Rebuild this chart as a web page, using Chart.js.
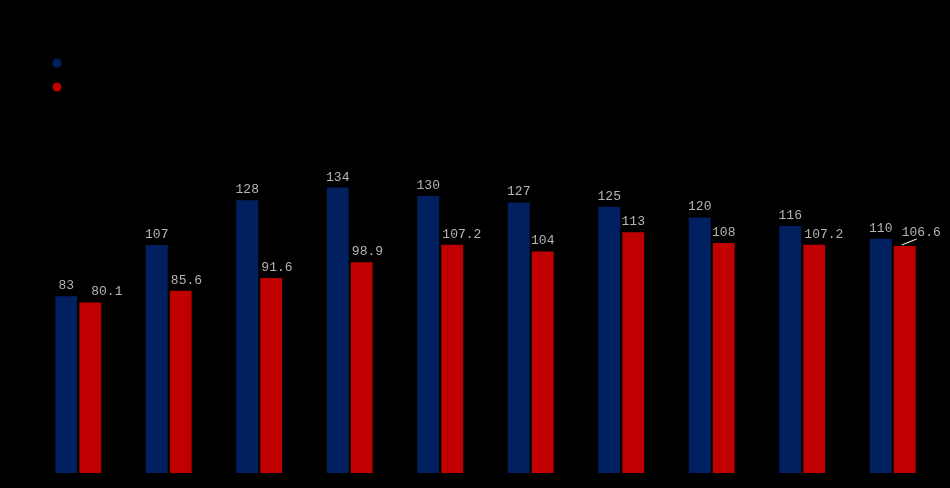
<!DOCTYPE html>
<html>
<head>
<meta charset="utf-8">
<script src="https://cdn.jsdelivr.net/npm/chart.js@4/dist/chart.umd.min.js"></script>
<style>
html,body{margin:0;padding:0;background:#000;}
#wrap{width:950px;height:488px;position:relative;}
</style>
</head>
<body>
<div id="wrap"><canvas id="c" width="950" height="488"></canvas></div>
<script>
const title = "图表1：2013-2022年中国市场规模与价格指数对比";
const categories = ["2013","2014","2015","2016","2017","2018","2019","2020","2021","2022"];
const seriesNames = ["市场规模（亿元，左轴）","价格指数（上年=100）"];
const seriesA = [83,107,128,134,130,127,125,120,116,110];
const seriesB = [80.1,85.6,91.6,98.9,107.2,104,113,108,107.2,106.6];
const yTicks = [0,20,40,60,80,100,120,140,160,180,200];

const colors = ["#002060","#C00000"];

const overlay = {
  id:'overlay',
  afterDraw(chart){
    const ctx = chart.ctx;
    ctx.save();
    // title
    ctx.fillStyle = "#000";
    ctx.font = "bold 17px 'Noto Sans CJK SC'";
    ctx.textAlign = "center";
    ctx.textBaseline = "middle";
    ctx.fillText(title, 470, 18);
    // legend
    ctx.textAlign = "left";
    ctx.font = "13px 'Noto Sans CJK SC'";
    const ly = [63,87];
    chart.data.datasets.forEach((ds,i)=>{
      ctx.fillStyle = ds.backgroundColor;
      ctx.beginPath();
      ctx.arc(57, ly[i], 4.5, 0, Math.PI*2);
      ctx.fill();
      ctx.fillStyle = "#000";
      ctx.fillText(ds.label, 70, ly[i]);
    });
    // data labels
    ctx.font = "13px 'Liberation Mono'";
    ctx.fillStyle = "#b4b4b4";
    ctx.textBaseline = "alphabetic";
    chart.data.datasets.forEach((ds,di)=>{
      const meta = chart.getDatasetMeta(di);
      const n = ds.data.length;
      meta.data.forEach((bar,j)=>{
        const v = ds.data[j];
        const txt = String(v);
        let x = bar.x, y = bar.y - 7;
        ctx.textAlign = "center";
        if (di === 1 && txt.indexOf('.') >= 0) {
          ctx.textAlign = "left";
          x = bar.x - bar.width/2 + 1;
          if (j === 0) x = bar.x + 1;
          if (j === n-1) { x = bar.x - 3; y = bar.y - 10; }
        }
        ctx.fillText(txt, x, y);
        if (di === 1 && j === n-1) {
          ctx.strokeStyle = "#d8e8d8";
          ctx.lineWidth = 1.2;
          ctx.beginPath();
          ctx.moveTo(bar.x - 3, bar.y - 1);
          ctx.lineTo(bar.x + 12, bar.y - 7);
          ctx.stroke();
        }
      });
    });
    ctx.restore();
  }
};

new Chart(document.getElementById('c'), {
  type:'bar',
  data:{
    labels:categories,
    datasets:[
      {label:seriesNames[0], data:seriesA, backgroundColor:colors[0]},
      {label:seriesNames[1], data:seriesB, backgroundColor:colors[1]}
    ]
  },
  options:{
    responsive:false,
    animation:false,
    layout:{padding:{top:47,right:12,left:0,bottom:0}},
    datasets:{bar:{categoryPercentage:0.53,barPercentage:0.91}},
    plugins:{legend:{display:false},title:{display:false},tooltip:{enabled:false}},
    scales:{
      x:{
        grid:{display:false},
        border:{display:false},
        ticks:{color:"#000",font:{size:12,family:"'Noto Sans CJK SC'"},padding:1},
        afterFit(s){ s.height = 15; }
      },
      y:{
        min:0,max:200,
        afterBuildTicks(s){ s.ticks = yTicks.map(v=>({value:v})); },
        grid:{display:false},
        border:{display:false},
        ticks:{color:"#000",font:{size:12,family:"'Noto Sans CJK SC'"},padding:3},
        afterFit(s){ s.width = 33; }
      }
    }
  },
  plugins:[overlay]
});
</script>
</body>
</html>
